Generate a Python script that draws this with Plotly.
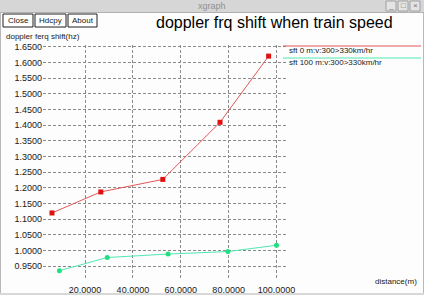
import plotly.graph_objects as go

# Data
red_x = [6.2, 26.6, 52.5, 76.4, 96.7]
red_y = [1.120, 1.187, 1.227, 1.409, 1.620]
green_x = [9.3, 29.3, 54.7, 79.7, 100.0]
green_y = [0.936, 0.978, 0.989, 0.997, 1.017]
x_ticks = [20, 40, 60, 80, 100]
y_ticks = [0.95, 1.00, 1.05, 1.10, 1.15, 1.20, 1.25, 1.30, 1.35, 1.40, 1.45, 1.50, 1.55, 1.60, 1.65]
series_names = ["sft 0 m:v:300>330km/hr", "sft 100 m:v:300>330km/hr"]

W, H = 424, 295
ML, MR, MT, MB = 43, 136, 45, 17
PW, PH = W - ML - MR, H - MT - MB
FONT = "Liberation Sans, Arial, sans-serif"

fig = go.Figure()
fig.add_trace(go.Scatter(x=red_x, y=red_y, mode="lines+markers", name=series_names[0],
                         line=dict(color="#e05858", width=1),
                         marker=dict(color="#e01010", size=5, symbol="square"),
                         showlegend=False))
fig.add_trace(go.Scatter(x=green_x, y=green_y, mode="lines+markers", name=series_names[1],
                         line=dict(color="#50e8b0", width=1),
                         marker=dict(color="#20e080", size=5, symbol="circle"),
                         showlegend=False))

def px(x):
    return (x - ML) / PW

def py(y):
    return (H - MB - y) / PH

shapes = []
annotations = []

# window title bar
shapes.append(dict(type="rect", xref="paper", yref="paper", x0=px(-2), x1=px(W + 2), y0=py(12), y1=py(-2),
                   fillcolor="#d6d6d6", line=dict(width=0), layer="below"))
shapes.append(dict(type="line", xref="paper", yref="paper", x0=px(0), x1=px(W), y0=py(12.5), y1=py(12.5),
                   line=dict(color="#b0b0b0", width=1)))
annotations.append(dict(text="xgraph", xref="paper", yref="paper", x=px(212), y=py(6), showarrow=False,
                        font=dict(family=FONT, size=9, color="#909090"), xanchor="center", yanchor="middle"))
# window control buttons
for i, g in enumerate(["_", "□", "×"]):
    x0 = 386 + i * 12
    shapes.append(dict(type="rect", xref="paper", yref="paper", x0=px(x0), x1=px(x0 + 10), y0=py(11), y1=py(1),
                       fillcolor="#e4e4e4", line=dict(color="#a0a0a0", width=1)))
    annotations.append(dict(text=g, xref="paper", yref="paper", x=px(x0 + 5), y=py(6), showarrow=False,
                            font=dict(family=FONT, size=8, color="#707070"), xanchor="center", yanchor="middle"))
# window borders
shapes.append(dict(type="line", xref="paper", yref="paper", x0=px(0.5), x1=px(0.5), y0=py(H), y1=py(12),
                   line=dict(color="#b8b8b8", width=1)))
shapes.append(dict(type="line", xref="paper", yref="paper", x0=px(W - 0.5), x1=px(W - 0.5), y0=py(H), y1=py(12),
                   line=dict(color="#b8b8b8", width=1)))
shapes.append(dict(type="rect", xref="paper", yref="paper", x0=px(0), x1=px(W), y0=py(H + 1), y1=py(H - 2),
                   fillcolor="#d8d8d8", line=dict(width=0)))

# buttons
for label, x0, x1 in [("Close", 3, 33), ("Hdcpy", 35, 66), ("About", 68, 97)]:
    shapes.append(dict(type="rect", xref="paper", yref="paper", x0=px(x0), x1=px(x1), y0=py(27), y1=py(14),
                       fillcolor="white", line=dict(color="#202020", width=1)))
    annotations.append(dict(text=label, xref="paper", yref="paper", x=px((x0 + x1) / 2), y=py(20.5),
                            showarrow=False, font=dict(family=FONT, size=8, color="#202020"),
                            xanchor="center", yanchor="middle"))

# title
annotations.append(dict(text="doppler frq shift when train speed", xref="paper", yref="paper",
                        x=px(154), y=py(22), showarrow=False, xanchor="left", yanchor="middle",
                        font=dict(family=FONT, size=16, color="black")))
# y axis label
annotations.append(dict(text="doppler ferq shift(hz)", xref="paper", yref="paper",
                        x=px(4), y=py(36), showarrow=False, xanchor="left", yanchor="middle",
                        font=dict(family=FONT, size=8, color="#202020")))
# x axis label
annotations.append(dict(text="distance(m)", xref="paper", yref="paper",
                        x=px(419), y=py(281), showarrow=False, xanchor="right", yanchor="middle",
                        font=dict(family=FONT, size=8, color="#202020")))

# legend
legend_colors = ["#e05858", "#50e8b0"]
for i, (name, col) in enumerate(zip(series_names, legend_colors)):
    ly = 46 + i * 12
    shapes.append(dict(type="line", xref="paper", yref="paper", x0=px(283), x1=px(421), y0=py(ly), y1=py(ly),
                       line=dict(color=col, width=1)))
    annotations.append(dict(text=name, xref="paper", yref="paper", x=px(287), y=py(ly + 4.5),
                            showarrow=False, xanchor="left", yanchor="middle",
                            font=dict(family=FONT, size=8, color="#202020")))

fig.update_layout(
    width=W, height=H,
    margin=dict(l=ML, r=MR, t=MT, b=MB, autoexpand=False),
    paper_bgcolor="#fdfdfd", plot_bgcolor="#fdfdfd",
    shapes=shapes, annotations=annotations,
    font=dict(family=FONT, size=9, color="#202020"),
    showlegend=False,
)
fig.update_xaxes(range=[2.45, 104.8], tickvals=x_ticks, tickformat=".4f", automargin=False,
                 showgrid=True, gridcolor="#8a8a8a", griddash="3px,2px", gridwidth=1,
                 zeroline=False, showline=False, ticks="outside", ticklen=3,
                 tickcolor="rgba(0,0,0,0)", tickfont=dict(size=9, family=FONT, color="#202020"))
fig.update_yaxes(range=[0.9127, 1.6554], tickvals=y_ticks, tickformat=".4f", automargin=False,
                 showgrid=True, gridcolor="#8a8a8a", griddash="3px,2px", gridwidth=1,
                 zeroline=False, showline=False, ticks="",
                 tickfont=dict(size=9, family=FONT, color="#202020"))

fig.write_html("out.html")
